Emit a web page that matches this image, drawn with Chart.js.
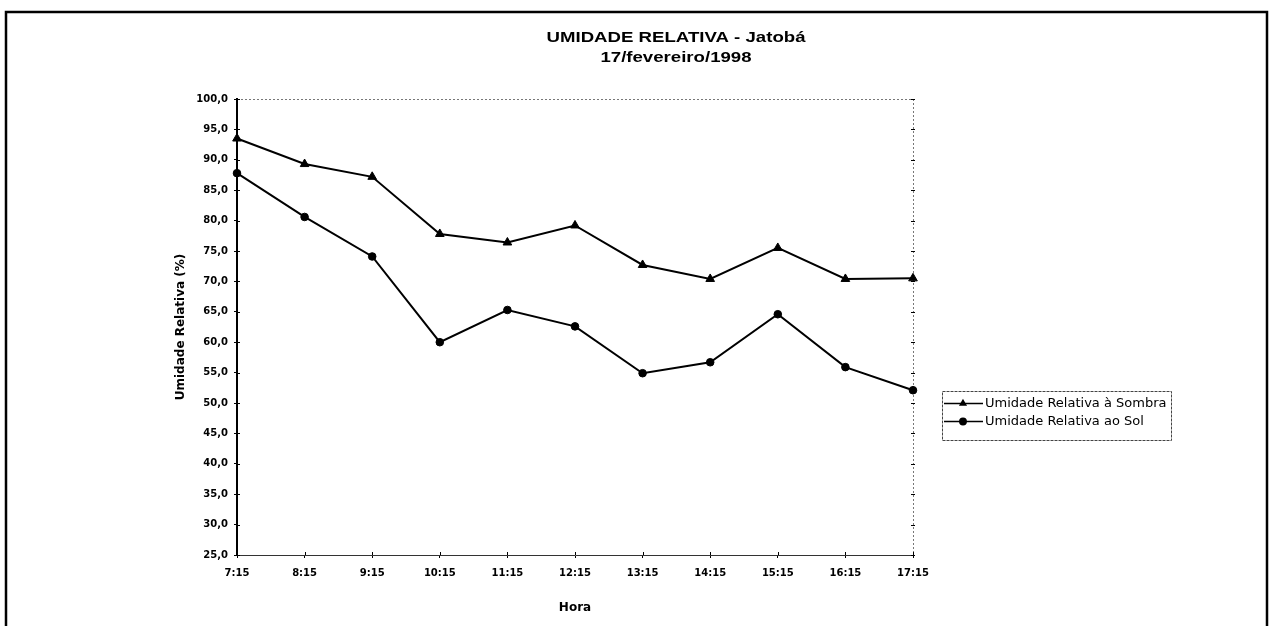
<!DOCTYPE html>
<html>
<head>
<meta charset="utf-8">
<script src="https://cdn.jsdelivr.net/npm/chart.js@4.4.1/dist/chart.umd.min.js"></script>
<style>
  html, body { margin: 0; padding: 0; background: #fff; }
  #wrap { position: relative; width: 1273px; height: 626px; }
</style>
</head>
<body>
<div id="wrap"><canvas id="c" width="1273" height="626"></canvas></div>
<script>
// --- data ---
const horas = ['7:15', '8:15', '9:15', '10:15', '11:15', '12:15', '13:15', '14:15', '15:15', '16:15', '17:15'];
const umidadeSombra = [93.5, 89.3, 87.2, 77.8, 76.4, 79.2, 72.7, 70.4, 75.5, 70.4, 70.5];
const umidadeSol = [87.8, 80.6, 74.1, 60.0, 65.3, 62.6, 54.9, 56.7, 64.6, 55.9, 52.1];
const titleLines = ['UMIDADE RELATIVA - Jatobá', '17/fevereiro/1998'];
const yMin = 25, yMax = 100, yStep = 5;

const FONT = '"DejaVu Sans", "Liberation Sans", Arial, sans-serif';
const ARIAL = '"Liberation Sans", Arial, sans-serif';

// outer frame, dotted top/right plot edges and Excel-style crossing ticks
const framePlugin = {
    id: 'frame',
    beforeDraw(chart) {
        const { ctx, chartArea: a } = chart;
        ctx.save();
        ctx.strokeStyle = '#000';
        ctx.lineWidth = 2.5;
        ctx.beginPath();
        ctx.moveTo(6, 700);
        ctx.lineTo(6, 12);
        ctx.lineTo(1267, 12);
        ctx.lineTo(1267, 700);
        ctx.stroke();

        ctx.strokeStyle = '#777';
        ctx.lineWidth = 1;
        ctx.setLineDash([2, 2]);
        ctx.beginPath();
        ctx.moveTo(a.left, a.top + 0.5);
        ctx.lineTo(a.right + 0.5, a.top + 0.5);
        ctx.lineTo(a.right + 0.5, a.bottom);
        ctx.stroke();
        ctx.restore();
    },
    afterDraw(chart) {
        const { ctx, chartArea: a, scales } = chart;
        ctx.save();
        ctx.strokeStyle = '#000';
        ctx.lineWidth = 1;
        ctx.beginPath();
        scales.x.ticks.forEach((t, i) => {
            const px = Math.round(scales.x.getPixelForTick(i)) + 0.5;
            ctx.moveTo(px, a.bottom - 3);
            ctx.lineTo(px, a.bottom);
        });
        scales.y.ticks.forEach((t, i) => {
            const py = Math.round(scales.y.getPixelForTick(i)) + 0.5;
            ctx.moveTo(a.left, py);
            ctx.lineTo(a.left + 3, py);
            ctx.moveTo(a.right - 2, py);
            ctx.lineTo(a.right + 2, py);
        });
        ctx.stroke();
        ctx.restore();
    }
};

// two-line title, wide bold lettering like the scanned original
const titlePlugin = {
    id: 'twoLineTitle',
    afterDraw(chart) {
        const { ctx } = chart;
        ctx.save();
        ctx.fillStyle = '#000';
        ctx.font = 'bold 14px ' + ARIAL;
        ctx.textAlign = 'center';
        ctx.textBaseline = 'middle';
        ctx.translate(676, 0);
        ctx.scale(1.33, 1);
        titleLines.forEach((t, i) => ctx.fillText(t, 0, 38 + i * 20));
        ctx.restore();
    }
};

// boxed legend with line + marker samples
const legendPlugin = {
    id: 'boxLegend',
    afterDraw(chart) {
        const { ctx } = chart;
        const box = { x: 942, y: 391, w: 229, h: 49 };
        ctx.save();
        ctx.strokeStyle = '#444';
        ctx.lineWidth = 1;
        ctx.setLineDash([3, 1]);
        ctx.strokeRect(box.x + 0.5, box.y + 0.5, box.w, box.h);
        ctx.setLineDash([]);
        chart.data.datasets.forEach((ds, i) => {
            const y = box.y + 12.5 + i * 18;
            ctx.strokeStyle = '#000';
            ctx.lineWidth = 1.5;
            ctx.beginPath();
            ctx.moveTo(box.x + 2, y);
            ctx.lineTo(box.x + 41, y);
            ctx.stroke();
            ctx.fillStyle = '#000';
            Chart.helpers.drawPoint(ctx, { pointStyle: ds.pointStyle, radius: 3.2, rotation: 0, borderWidth: 1 }, box.x + 21, y);
            ctx.font = '13px ' + FONT;
            ctx.textBaseline = 'middle';
            ctx.textAlign = 'left';
            ctx.fillText(ds.label, box.x + 43, y);
        });
        ctx.restore();
    }
};

new Chart(document.getElementById('c'), {
    type: 'line',
    data: {
        labels: horas,
        datasets: [
            {
                label: 'Umidade Relativa à Sombra',
                data: umidadeSombra,
                borderColor: '#000',
                backgroundColor: '#000',
                borderWidth: 2,
                pointStyle: 'triangle',
                pointRadius: 5,
                pointBorderWidth: 1,
                tension: 0
            },
            {
                label: 'Umidade Relativa ao Sol',
                data: umidadeSol,
                borderColor: '#000',
                backgroundColor: '#000',
                borderWidth: 2,
                pointStyle: 'circle',
                pointRadius: 3.8,
                pointBorderWidth: 1,
                tension: 0
            }
        ]
    },
    options: {
        responsive: false,
        animation: false,
        layout: { padding: { left: 173, top: 99, right: 360, bottom: 11 } },
        plugins: {
            legend: { display: false },
            title: { display: false },
            tooltip: { enabled: false }
        },
        scales: {
            x: {
                type: 'category',
                offset: false,
                afterFit(scale) { scale.height = 60; },
                grid: { drawOnChartArea: false, drawTicks: true, tickLength: 3, color: '#000' },
                border: { color: '#333', width: 1, dash: [4, 1] },
                ticks: { color: '#000', padding: 9, maxRotation: 0, autoSkip: false, font: { family: FONT, size: 10, weight: 'bold' } },
                title: { display: true, text: 'Hora', color: '#000', padding: { top: 0, bottom: 0 }, font: { family: FONT, size: 12, weight: 'bold' } }
            },
            y: {
                min: yMin,
                max: yMax,
                afterFit(scale) { scale.width = 64; },
                grid: { drawOnChartArea: false, drawTicks: true, tickLength: 3, color: '#000' },
                border: { color: '#000', width: 2 },
                ticks: {
                    stepSize: yStep,
                    color: '#000',
                    padding: 6,
                    font: { family: FONT, size: 10, weight: 'bold' },
                    callback: (v) => v.toFixed(1).replace('.', ',')
                },
                title: { display: true, text: 'Umidade Relativa (%)', color: '#000', padding: { top: 1, bottom: 0 }, font: { family: FONT, size: 12, weight: 'bold' } }
            }
        }
    },
    plugins: [framePlugin, titlePlugin, legendPlugin]
});
</script>
</body>
</html>
